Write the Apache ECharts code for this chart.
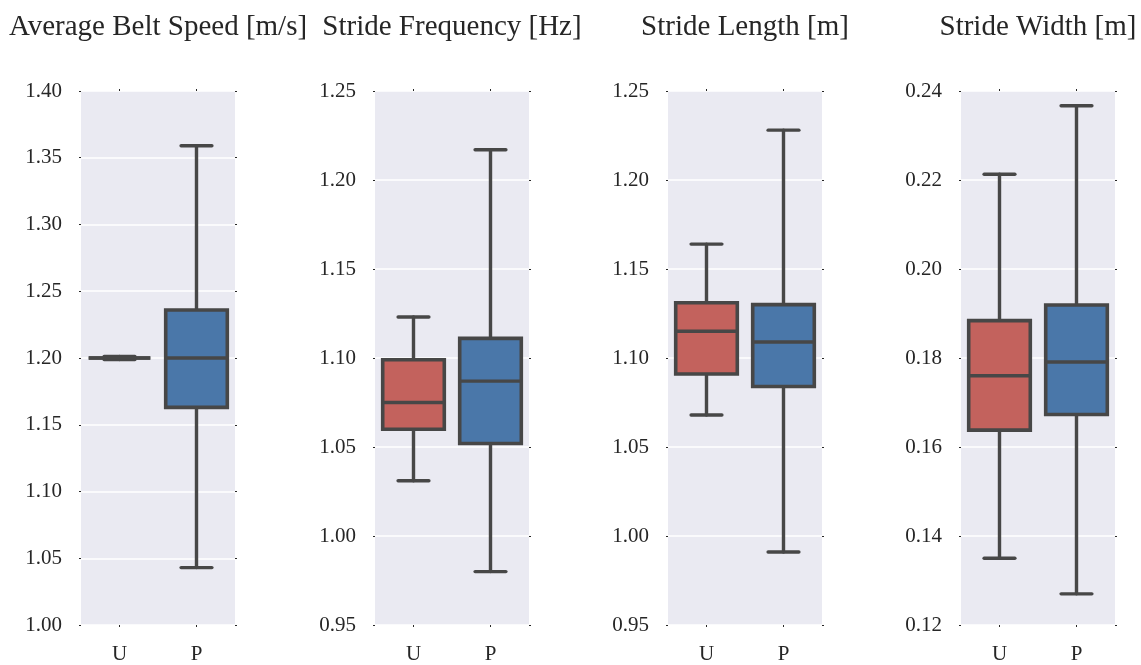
<!DOCTYPE html>
<html>
<head>
<meta charset="utf-8">
<script src="https://cdn.jsdelivr.net/npm/echarts@6/dist/echarts.min.js"></script>
<style>
html,body{margin:0;padding:0;background:#fff;}
#chart{width:1141px;height:665px;}
</style>
</head>
<body>
<div id="chart"></div>
<script>
// ---- data ----
const categories = ['U', 'P'];
const panelTitles = ['Average Belt Speed [m/s]', 'Stride Frequency [Hz]', 'Stride Length [m]', 'Stride Width [m]'];
// each box: [min, Q1, median, Q3, max]
const beltSpeedU = [1.1988, 1.2, 1.2, 1.2, 1.2012];
const beltSpeedP = [1.043, 1.163, 1.200, 1.236, 1.359];
const strideFreqU = [1.031, 1.060, 1.075, 1.099, 1.123];
const strideFreqP = [0.980, 1.052, 1.087, 1.111, 1.217];
const strideLenU = [1.068, 1.091, 1.115, 1.131, 1.164];
const strideLenP = [0.991, 1.084, 1.109, 1.130, 1.228];
const strideWidthU = [0.135, 0.1638, 0.176, 0.1884, 0.2213];
const strideWidthP = [0.127, 0.1673, 0.1791, 0.1919, 0.2367];
// y-axis ranges: [min, max, interval]
const yRanges = [[1.00, 1.40, 0.05], [0.95, 1.25, 0.05], [0.95, 1.25, 0.05], [0.12, 0.24, 0.02]];

const panels = [
  [beltSpeedU, beltSpeedP],
  [strideFreqU, strideFreqP],
  [strideLenU, strideLenP],
  [strideWidthU, strideWidthP]
];

// ---- styles ----
const boxColors = ['#C3625D', '#4A77A9'];
const lineColor = '#474747';
const textColor = '#262626';
const fontFamily = '"Liberation Serif", "DejaVu Serif", serif';
const gridLefts = [81, 375, 668, 961];
const gridWidth = 154, gridTop = 91, gridHeight = 537;

function renderBox(params, api) {
  const xi = api.value(0);
  const v = [api.value(1), api.value(2), api.value(3), api.value(4), api.value(5)];
  const band = api.size([1, 0])[0];
  const bw = band * 0.8, cw = bw / 2;
  const x = api.coord([xi, v[2]])[0];
  const y = v.map(val => api.coord([xi, val])[1]);
  const ls = {stroke: lineColor, lineWidth: 3.4, lineCap: 'round'};
  return {
    type: 'group',
    children: [
      {type: 'line', shape: {x1: x, y1: y[1], x2: x, y2: y[0]}, style: ls},
      {type: 'line', shape: {x1: x, y1: y[3], x2: x, y2: y[4]}, style: ls},
      {type: 'line', shape: {x1: x - cw / 2, y1: y[0], x2: x + cw / 2, y2: y[0]}, style: ls},
      {type: 'line', shape: {x1: x - cw / 2, y1: y[4], x2: x + cw / 2, y2: y[4]}, style: ls},
      {type: 'rect', shape: {x: x - bw / 2, y: y[3], width: bw, height: Math.max(y[1] - y[3], 0)},
        style: {fill: boxColors[xi], stroke: lineColor, lineWidth: 3.6}},
      {type: 'line', shape: {x1: x - bw / 2, y1: y[2], x2: x + bw / 2, y2: y[2]}, style: {stroke: lineColor, lineWidth: 3.4}}
    ]
  };
}

const option = {
  animation: false,
  backgroundColor: '#ffffff',
  title: [], grid: [], xAxis: [], yAxis: [], series: []
};

panels.forEach((pair, i) => {
  const [mn, mx, iv] = yRanges[i];
  option.title.push({
    text: panelTitles[i],
    left: gridLefts[i] + gridWidth / 2,
    textAlign: 'center',
    top: 13,
    padding: 0,
    textStyle: {fontFamily, fontSize: 29, fontWeight: 'normal', color: textColor}
  });
  option.grid.push({
    left: gridLefts[i], width: gridWidth, top: gridTop, height: gridHeight,
    show: true, backgroundColor: '#EAEAF2', borderWidth: 0
  });
  const tick = {show: true, length: 2, inside: false, alignWithLabel: true, lineStyle: {color: textColor, width: 1}};
  option.xAxis.push({
    type: 'category', data: categories, gridIndex: i, position: 'bottom',
    axisLine: {show: false}, axisTick: tick,
    axisLabel: {margin: 19, fontFamily, fontSize: 21, color: textColor},
    splitLine: {show: false}
  });
  option.xAxis.push({
    type: 'category', data: categories, gridIndex: i, position: 'top',
    axisLine: {show: false}, axisTick: tick, axisLabel: {show: false}, splitLine: {show: false}
  });
  option.yAxis.push({
    type: 'value', gridIndex: i, min: mn, max: mx, interval: iv, position: 'left',
    axisLine: {show: false}, axisTick: {show: true, length: 2, lineStyle: {color: textColor, width: 1}},
    axisLabel: {margin: 19, fontFamily, fontSize: 21, color: textColor, formatter: v => v.toFixed(2)},
    splitLine: {show: true, lineStyle: {color: '#ffffff', width: 1.6}}
  });
  option.yAxis.push({
    type: 'value', gridIndex: i, min: mn, max: mx, interval: iv, position: 'right',
    axisLine: {show: false}, axisTick: {show: true, length: 2, lineStyle: {color: textColor, width: 1}},
    axisLabel: {show: false}, splitLine: {show: false}
  });
  option.series.push({
    type: 'custom',
    xAxisIndex: i * 2, yAxisIndex: i * 2,
    renderItem: renderBox,
    encode: {x: 0, y: [1, 2, 3, 4, 5]},
    data: pair.map((b, k) => [k].concat(b)),
    clip: false
  });
});

const chart = echarts.init(document.getElementById('chart'), null, {renderer: 'canvas'});
chart.setOption(option);
</script>
</body>
</html>
